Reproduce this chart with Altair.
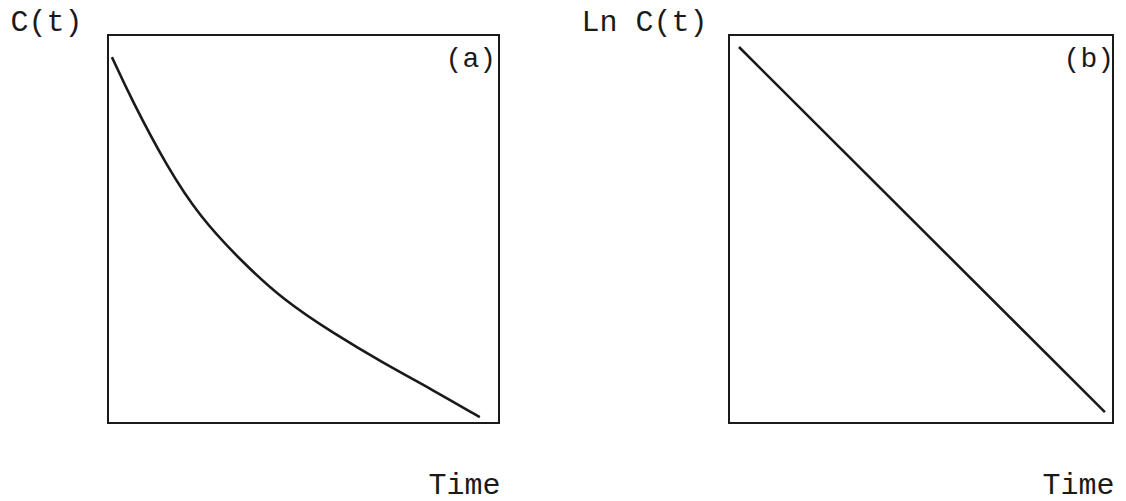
import altair as alt
import pandas as pd

# Panel (a): concentration decaying with time
curve_t = [0.10, 0.61, 1.51, 2.35, 3.38, 4.48, 5.75, 7.03, 8.31, 9.51]
curve_c = [0.943, 0.832, 0.660, 0.531, 0.420, 0.317, 0.232, 0.155, 0.085, 0.015]

# Panel (b): log of concentration, a straight line
line_t = [0.26, 9.79]
line_lnc = [0.969, 0.028]

panel_letters = ["(a)", "(b)"]
y_titles = ["C(t)", "Ln C(t)"]
x_title = "Time"

FONT = "Liberation Mono"
INK = "#1a1a1a"
H = 388
TITLE_SIZE = 30


def panel(df, ycol, letter, ytitle, width, letter_dx, ytitle_x, interp):
    x_scale = alt.Scale(domain=[0, 10], nice=False, zero=False)
    y_scale = alt.Scale(domain=[0, 1], nice=False, zero=False)
    x_axis = alt.Axis(
        labels=False, ticks=False, grid=False, domain=False,
        title=x_title, titleX=width + 1, titleY=70, titleAlign="right",
        titleBaseline="alphabetic", titleFont=FONT, titleFontSize=TITLE_SIZE,
        titleFontWeight="normal", titleColor=INK,
    )
    y_axis = alt.Axis(
        labels=False, ticks=False, grid=False, domain=False,
        title=ytitle, titleAngle=0, titleX=ytitle_x, titleY=-5,
        titleAlign="right", titleBaseline="alphabetic", titleFont=FONT,
        titleFontSize=TITLE_SIZE, titleFontWeight="normal", titleColor=INK,
    )
    line = alt.Chart(df).mark_line(
        color=INK, strokeWidth=2.6, interpolate=interp
    ).encode(
        x=alt.X("t:Q", scale=x_scale, axis=x_axis),
        y=alt.Y(f"{ycol}:Q", scale=y_scale, axis=y_axis),
    )
    tag = alt.Chart(pd.DataFrame({"t": [10], "v": [1], "label": [letter]})).mark_text(
        font=FONT, fontSize=28, color=INK, align="right",
        baseline="alphabetic", dx=letter_dx, dy=32,
    ).encode(
        x=alt.X("t:Q", scale=x_scale),
        y=alt.Y("v:Q", scale=y_scale),
        text="label:N",
    )
    return alt.layer(line, tag).properties(width=width, height=H)


df_a = pd.DataFrame({"t": curve_t, "c": curve_c})
df_b = pd.DataFrame({"t": line_t, "lnc": line_lnc})

left = panel(df_a, "c", panel_letters[0], y_titles[0], 391, -3, -26, "basis")
right = panel(df_b, "lnc", panel_letters[1], y_titles[1], 384, 1, -22, "linear")

chart = alt.hconcat(left, right, spacing=230, bounds="flush").properties(
    padding={"left": 8, "top": 5, "right": 5, "bottom": 5},
    background="white",
).configure_view(
    stroke=INK, strokeWidth=2
)

chart.save("out.html", embed_options={"renderer": "svg", "actions": False})
